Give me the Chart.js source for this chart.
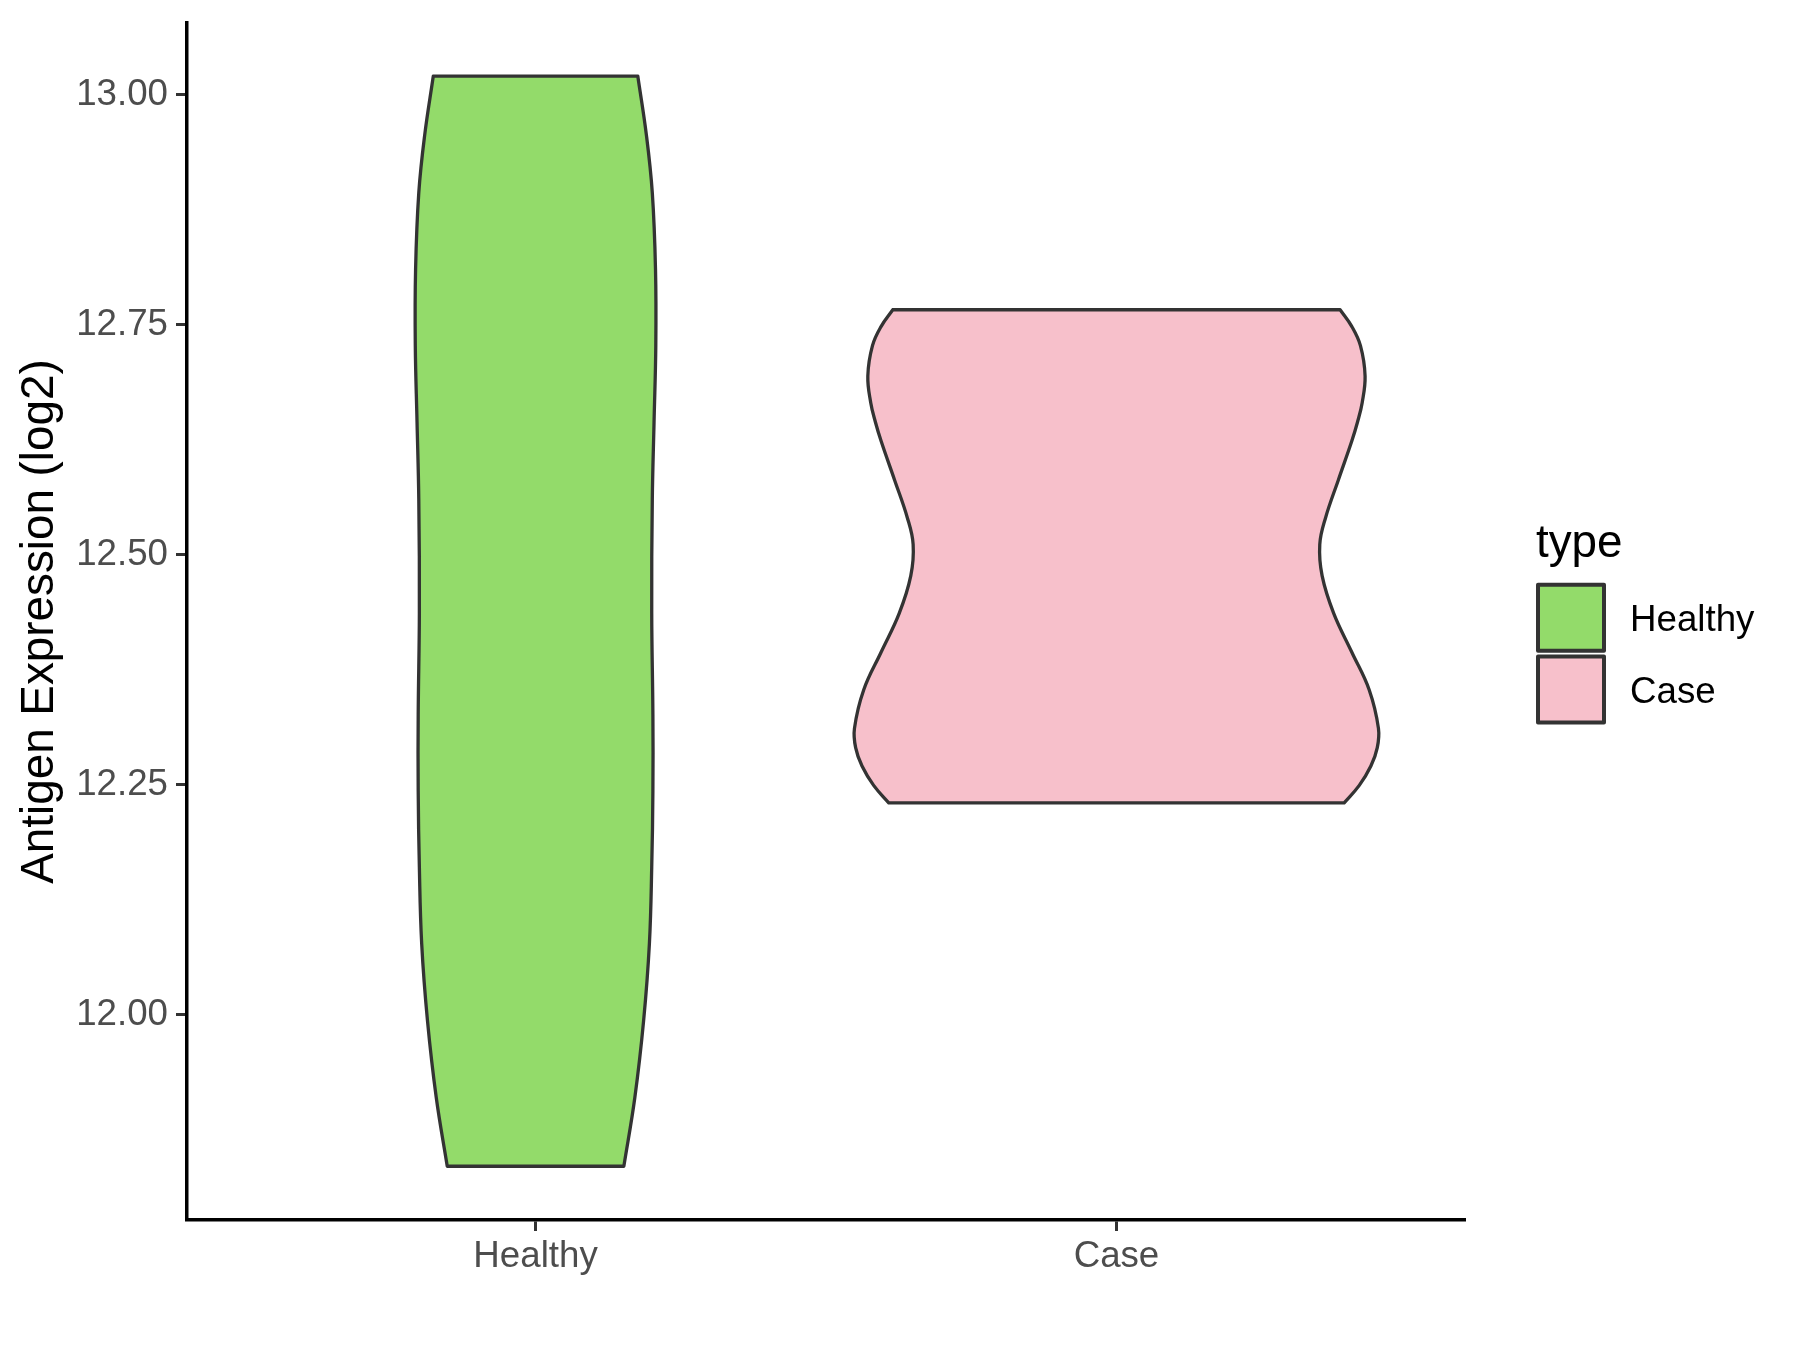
<!DOCTYPE html>
<html>
<head>
<meta charset="utf-8">
<title>Antigen Expression (log2)</title>
<script src="https://cdn.jsdelivr.net/npm/chart.js@4.4.1/dist/chart.umd.min.js"></script>
<style>
  html, body { margin: 0; padding: 0; background: #ffffff; }
  canvas { display: block; }
</style>
</head>
<body>
<canvas id="violinChart" width="1800" height="1350"></canvas>
<script>
// Categories, fills and y ticks
const categories = ['Healthy', 'Case'];
const fillColors = ['#93DB6A', '#F7C0CB'];
const yTicks = [12.00, 12.25, 12.50, 12.75, 13.00];

// Violin outlines: y level and half width (in category units)
const healthyY    = [13.020, 12.955, 12.893, 12.810, 12.727, 12.644, 12.560, 12.436, 12.326, 12.243, 12.160, 12.077, 11.993, 11.910, 11.835];
const healthyHalf = [0.176,  0.191,  0.201,  0.2065, 0.207,  0.204,  0.201,  0.200,  0.202,  0.202,  0.200,  0.196,  0.186,  0.171,  0.152];

const caseY    = [12.766, 12.748, 12.727, 12.694, 12.665, 12.644, 12.623, 12.581, 12.540, 12.511, 12.477, 12.436, 12.394, 12.353, 12.311, 12.290, 12.270, 12.249, 12.230];
const caseHalf = [0.385,  0.405,  0.420,  0.428,  0.423,  0.415,  0.405,  0.382,  0.360,  0.350,  0.354,  0.374,  0.405,  0.435,  0.451,  0.449,  0.438,  0.418,  0.392];

// Closed outline: down the left side, across the bottom, up the right side, back across the top
function violinOutline(pos, ys, halves) {
    const left = ys.map((y, i) => ({x: pos - halves[i], y: y}));
    const right = ys.map((y, i) => ({x: pos + halves[i], y: y})).reverse();
    // corners repeated so the spline keeps the flat top and bottom edges
    return [...left, left[left.length - 1], right[0], ...right, right[right.length - 1], left[0]];
}

// ggplot-like legend on the right
const typeLegend = {
    id: 'typeLegend',
    afterDraw(chart) {
        const c = chart.ctx;
        c.save();
        c.fillStyle = '#000000';
        c.textAlign = 'left';
        c.textBaseline = 'alphabetic';
        c.font = '45.8px "Liberation Sans", Arial, sans-serif';
        c.fillText('type', 1536, 557);

        c.font = '36.7px "Liberation Sans", Arial, sans-serif';
        categories.forEach((name, i) => {
            const top = 584.7 + i * 71.8;
            c.fillStyle = fillColors[i];
            c.fillRect(1538, top, 66, 66);
            c.strokeStyle = '#333333';
            c.lineWidth = 4;
            c.lineJoin = 'round';
            c.strokeRect(1538, top, 66, 66);
            c.fillStyle = '#000000';
            c.fillText(name, 1630, top + 33 + 13.2);
        });
        c.restore();
    }
};

function dropPadding(scale) {
    scale.paddingLeft = 0;
    scale.paddingRight = 0;
    scale.paddingTop = 0;
    scale.paddingBottom = 0;
}

Chart.defaults.font.family = '"Liberation Sans", Arial, Helvetica, sans-serif';

const ctx = document.getElementById('violinChart').getContext('2d');
const violinChart = new Chart(ctx, {
    type: 'scatter',
    data: {
        datasets: [
            {
                label: categories[0],
                data: violinOutline(1, healthyY, healthyHalf),
                showLine: true,
                fill: 'shape',
                tension: 0.4,
                backgroundColor: fillColors[0],
                borderColor: '#333333',
                borderWidth: 3.3,
                borderCapStyle: 'round',
                borderJoinStyle: 'round',
                pointRadius: 0
            },
            {
                label: categories[1],
                data: violinOutline(2, caseY, caseHalf),
                showLine: true,
                fill: 'shape',
                tension: 0.4,
                backgroundColor: fillColors[1],
                borderColor: '#333333',
                borderWidth: 3.3,
                borderCapStyle: 'round',
                borderJoinStyle: 'round',
                pointRadius: 0
            }
        ]
    },
    options: {
        responsive: false,
        animation: false,
        layout: { padding: { left: 0, top: 23, right: 335, bottom: 0 } },
        plugins: {
            legend: { display: false },
            tooltip: { enabled: false }
        },
        scales: {
            x: {
                type: 'linear',
                position: 'bottom',
                min: 0.4,
                max: 2.6,
                afterBuildTicks: scale => { scale.ticks = categories.map((c, i) => ({ value: i + 1 })); },
                afterFit: scale => { dropPadding(scale); scale.height = 130; },
                border: { display: true, color: '#000000', width: 3.5 },
                grid: { drawOnChartArea: false, drawTicks: true, tickLength: 11, tickColor: '#333333', tickWidth: 3 },
                ticks: {
                    padding: 4,
                    color: '#4D4D4D',
                    font: { size: 36.7 },
                    maxRotation: 0,
                    callback: value => categories[Math.round(value) - 1]
                }
            },
            y: {
                type: 'linear',
                min: 11.7766,
                max: 13.0777,
                afterBuildTicks: scale => { scale.ticks = yTicks.map(v => ({ value: v })); },
                afterFit: scale => { dropPadding(scale); scale.width = 187; },
                border: { display: true, color: '#000000', width: 3.5 },
                grid: { drawOnChartArea: false, drawTicks: true, tickLength: 11, tickColor: '#333333', tickWidth: 3 },
                ticks: {
                    padding: 8,
                    color: '#4D4D4D',
                    font: { size: 36.7 },
                    callback: value => value.toFixed(2)
                },
                title: {
                    display: true,
                    text: 'Antigen Expression (log2)',
                    color: '#000000',
                    font: { size: 45.8 },
                    padding: { top: 12.5, bottom: 0 }
                }
            }
        }
    },
    plugins: [typeLegend]
});
</script>
</body>
</html>
